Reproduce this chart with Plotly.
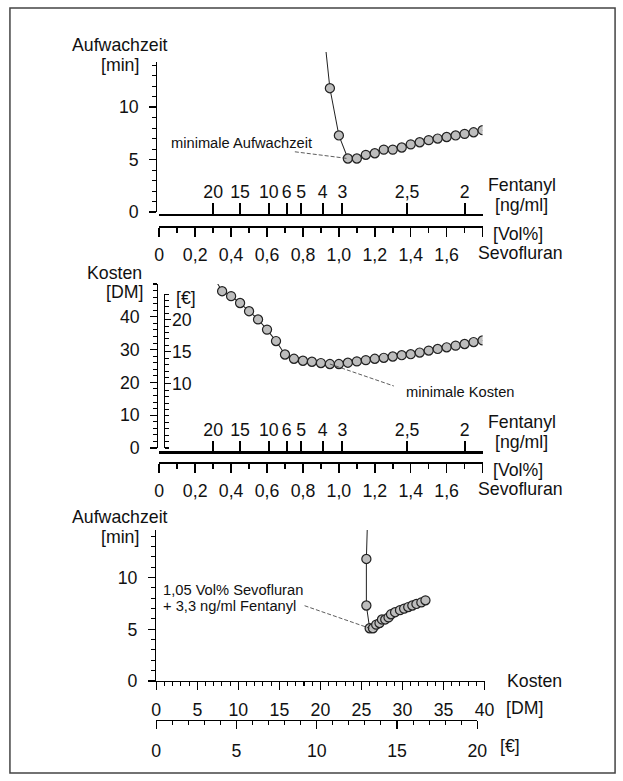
import plotly.graph_objects as go

# reference picture size (all pixel positions below are given in it)
W, H = 623, 781
# figure size (the page is photographed slightly larger than 623x781 and shrunk to fit)
FIG_W, FIG_H = 631, 791
K = FIG_W / W  # size factor for fonts/lines

# ---------------- data ----------------
# Panel 1: wake-up time vs. sevoflurane concentration
time_vol = [0.90, 0.95, 1.00, 1.05, 1.10, 1.15, 1.20, 1.25, 1.30, 1.35,
            1.40, 1.45, 1.50, 1.55, 1.60, 1.65, 1.70, 1.75, 1.80]
time_min = [19.9, 11.8, 7.3, 5.1, 5.1, 5.45, 5.6, 5.95, 5.95, 6.15,
            6.45, 6.65, 6.85, 7.0, 7.15, 7.3, 7.45, 7.6, 7.8]

# Panel 2: costs vs. sevoflurane concentration
cost_vol = [0.30, 0.35, 0.40, 0.45, 0.50, 0.55, 0.60, 0.65, 0.70, 0.75,
            0.80, 0.85, 0.90, 0.95, 1.00, 1.05, 1.10, 1.15, 1.20, 1.25,
            1.30, 1.35, 1.40, 1.45, 1.50, 1.55, 1.60, 1.65, 1.70, 1.75, 1.80]
cost_dm = [52.4, 47.8, 46.3, 44.2, 41.7, 39.2, 36.1, 32.6, 28.5, 27.2,
           26.6, 26.3, 25.9, 25.6, 25.6, 26.0, 26.4, 26.8, 27.2, 27.5,
           27.9, 28.3, 28.6, 29.1, 29.7, 30.2, 30.7, 31.2, 31.7, 32.3, 32.8]

# Fentanyl concentrations equivalent to sevoflurane positions
fentanyl_labels = ["20", "15", "10", "6", "5", "4", "3", "2,5", "2"]
fentanyl_at_vol = [0.30, 0.45, 0.61, 0.71, 0.79, 0.91, 1.02, 1.38, 1.70]

sevo_ticks = [0, 0.2, 0.4, 0.6, 0.8, 1.0, 1.2, 1.4, 1.6, 1.8]
sevo_ticklabels = ["0", "0,2", "0,4", "0,6", "0,8", "1,0", "1,2", "1,4", "1,6", ""]

DM_PER_EUR = 1.95583

# panel 3 pairs: cost at the same concentration as each wake-up time
cost_lookup = dict(zip(cost_vol, cost_dm))
pair_cost = [cost_lookup[v] for v in time_vol]

i_tmin = min(range(len(time_min)), key=lambda i: time_min[i])
i_cmin = min(range(len(cost_dm)), key=lambda i: cost_dm[i])

# ---------------- helpers ----------------
def fx(px):
    return px / W

def fy(py):
    return 1 - py / H

def s(v):
    return v * K

FONT = "Liberation Sans, Arial, sans-serif"
TK = s(17.5)
TT = s(17.5)
INK = "#111111"
MARK = dict(size=s(9), color="#bdbdbd", line=dict(color="#222222", width=s(1.2)))
LINE = dict(color="#222222", width=s(1))

X0, X1 = 156, 483  # sevo axis pixel span (0 .. 1.8)

def sevo_axis(pos):
    return dict(domain=[fx(X0), fx(X1)], range=[0, 1.8], anchor="free", position=fy(pos),
                side="bottom", showline=True, linewidth=s(2), linecolor="black",
                ticks="outside", ticklen=s(9), tickwidth=s(1.5), tickcolor="black",
                tickmode="array", tickvals=sevo_ticks, ticktext=sevo_ticklabels,
                ticklabelstandoff=3,
                minor=dict(ticks="outside", ticklen=s(5), tickwidth=s(1.5), tickcolor="black",
                           tickmode="linear", tick0=0, dtick=0.1),
                showgrid=False, zeroline=False, tickfont=dict(size=TK, color=INK, family=FONT))

def fent_axis(over, pos):
    return dict(overlaying=over, range=[0, 1.8], anchor="free", position=fy(pos),
                side="top", showline=True, linewidth=s(2.7), linecolor="black",
                ticks="outside", ticklen=s(10), tickwidth=s(2), tickcolor="black",
                tickmode="array", tickvals=fentanyl_at_vol, ticktext=fentanyl_labels,
                ticklabelstandoff=-2,
                showgrid=False, zeroline=False, tickfont=dict(size=TK, color=INK, family=FONT))

def yax(dom_px, rng, pos_px, tickvals, minor_dtick, side="left", anchor="free", standoff=6,
        ticklen=7):
    d = dict(domain=[fy(dom_px[0]), fy(dom_px[1])], range=rng, side=side,
             showline=True, linewidth=s(1.2), linecolor="black",
             ticks="outside", ticklen=s(ticklen), tickwidth=s(1.2), tickcolor="black",
             tickmode="array", tickvals=tickvals, ticklabelstandoff=standoff,
             minor=dict(ticks="outside", ticklen=s(4), tickwidth=s(1), tickcolor="black",
                        tickmode="linear", tick0=0, dtick=minor_dtick),
             showgrid=False, zeroline=False, tickfont=dict(size=TK, color=INK, family=FONT))
    if anchor == "free":
        d.update(anchor="free", position=fx(pos_px))
    else:
        d.update(anchor=anchor)
    return d

def cost_xaxis(dom_px, rng, standoff, **kw):
    d = dict(domain=[fx(dom_px[0]), fx(dom_px[1])], range=rng,
             showline=True, linewidth=s(1.2), linecolor="black",
             ticks="outside", ticklen=s(8), tickwidth=s(1.2), tickcolor="black",
             tick0=0, dtick=5, ticklabelstandoff=standoff,
             minor=dict(ticks="outside", ticklen=s(4), tickwidth=s(1), tickcolor="black",
                        tickmode="linear", tick0=0, dtick=1),
             showgrid=False, zeroline=False, tickfont=dict(size=TK, color=INK, family=FONT))
    d.update(kw)
    return d

fig = go.Figure()

# ---- panel 1 ----
p1_bottom, p1_top, p1_rng = 212, 62, 14.3
p1_scale = (p1_bottom - p1_top) / p1_rng
p1_data_top = 52
fig.add_trace(go.Scatter(x=time_vol, y=time_min, mode="lines+markers",
                         xaxis="x", yaxis="y7", line=LINE, marker=MARK, showlegend=False))
fig.add_trace(go.Scatter(x=[], y=[], xaxis="x", yaxis="y", showlegend=False))
fig.add_trace(go.Scatter(x=[], y=[], xaxis="x2", yaxis="y", showlegend=False))

# ---- panel 2 ----
p2_bottom, p2_top, p2_rng = 448, 284, 50
p2_scale = (p2_bottom - p2_top) / p2_rng
eur_top = 24
fig.add_trace(go.Scatter(x=cost_vol, y=cost_dm, mode="lines+markers",
                         xaxis="x3", yaxis="y2", line=LINE, marker=MARK, showlegend=False))
fig.add_trace(go.Scatter(x=[], y=[], xaxis="x4", yaxis="y2", showlegend=False))
fig.add_trace(go.Scatter(x=[], y=[], xaxis="x3", yaxis="y3", showlegend=False))

# ---- panel 3 ----
p3_bottom, p3_top, p3_rng = 681, 530, 14.6
p3_left, p3_right = 153, 485
p3_scale = (p3_right - p3_left) / 40
fig.add_trace(go.Scatter(x=pair_cost, y=time_min, mode="lines+markers",
                         xaxis="x5", yaxis="y4", line=LINE, marker=MARK, showlegend=False))
fig.add_trace(go.Scatter(x=[], y=[], xaxis="x6", yaxis="y4", showlegend=False))

layout = dict(
    width=FIG_W, height=FIG_H, margin=dict(l=0, r=0, t=0, b=0),
    paper_bgcolor="white", plot_bgcolor="rgba(0,0,0,0)",
    font=dict(family=FONT, size=TK, color=INK),
    showlegend=False, hovermode=False,
    xaxis=sevo_axis(227),
    xaxis2=fent_axis("x", 214.5),
    yaxis=yax((p1_bottom, p1_top), [0, p1_rng], 153, [0, 5, 10], 1, standoff=7),
    yaxis7=dict(domain=[fy(p1_bottom), fy(p1_data_top)],
                range=[0, (p1_bottom - p1_data_top) / p1_scale], visible=False,
                anchor="free", position=fx(153)),
    xaxis3=sevo_axis(463),
    xaxis4=fent_axis("x3", 452),
    yaxis2=yax((p2_bottom, p2_top), [0, p2_rng], 154, [0, 10, 20, 30, 40], 2, standoff=7),
    yaxis3=yax((p2_bottom, p2_bottom - eur_top * DM_PER_EUR * p2_scale), [0, eur_top], 161,
               [10, 15, 20], 1, side="right", standoff=-3, ticklen=6),
    xaxis5=cost_xaxis((p3_left, p3_right), [0, 40], 4, anchor="y4"),
    xaxis6=cost_xaxis((p3_left, p3_left + 20 * DM_PER_EUR * p3_scale), [0, 20], 6,
                      anchor="free", position=fy(720)),
    yaxis4=yax((p3_bottom, p3_top), [0, p3_rng], None, [0, 5, 10], 1, anchor="x5", standoff=7),
)
fig.update_layout(**layout)

# ---- text labels ----
def label(text, x, y, xanchor="left", size=TT):
    fig.add_annotation(text=text, x=fx(x), y=fy(y), xref="paper", yref="paper",
                       xanchor=xanchor, yanchor="middle", showarrow=False, borderpad=0,
                       font=dict(size=size, color=INK, family=FONT))

label("Aufwachzeit", 166, 45, "right")
label("[min]", 137, 65, "right")
label("Fentanyl", 487, 185)
label("[ng/ml]", 495, 205)
label("[Vol%]", 493, 234)
label("Sevofluran", 477, 253)

label("Kosten", 140, 273, "right")
label("[DM]", 141, 292, "right")
label("[€]", 172, 298)
label("Fentanyl", 487, 422)
label("[ng/ml]", 495, 442)
label("[Vol%]", 493, 470)
label("Sevofluran", 477, 489)

label("Aufwachzeit", 166, 517, "right")
label("[min]", 137, 537, "right")
label("Kosten", 507, 681)
label("[DM]", 506, 708)
label("[€]", 500, 746)

SMALL = s(14.5)
label("minimale Aufwachzeit", 167, 143, size=SMALL)
label("minimale Kosten", 405, 392, size=SMALL)
label("1,05 Vol% Sevofluran", 159, 590, size=SMALL)
label("+ 3,3 ng/ml Fentanyl", 159, 606, size=SMALL)

# ---- dashed leader lines ----
LEAD = dict(color="#333333", width=0.8, dash="4px,2px")
fig.add_shape(type="line", xref="x", yref="y7", x0=0.755, y0=5.74,
              x1=time_vol[i_tmin], y1=time_min[i_tmin], line=LEAD)
fig.add_shape(type="line", xref="x3", yref="y2", x0=cost_vol[i_cmin], y0=cost_dm[i_cmin],
              x1=1.306, y1=18.9, line=LEAD)
fig.add_shape(type="line", xref="x5", yref="y4", x0=18.07, y0=7.28,
              x1=pair_cost[i_tmin], y1=time_min[i_tmin], line=LEAD)

# ---- outer frame ----
fig.add_shape(type="rect", xref="paper", yref="paper", x0=fx(5), y0=fy(773), x1=fx(617), y1=fy(8),
              line=dict(color="#444444", width=1.5), layer="below")

PAGE_JS = """
document.documentElement.style.margin = '0';
document.body.style.margin = '0';
document.body.style.overflow = 'hidden';
document.documentElement.style.overflow = 'hidden';
window.scrollTo(0, 0);
"""

fig.write_html("out.html", config={"displayModeBar": False, "staticPlot": True},
               post_script=PAGE_JS)
